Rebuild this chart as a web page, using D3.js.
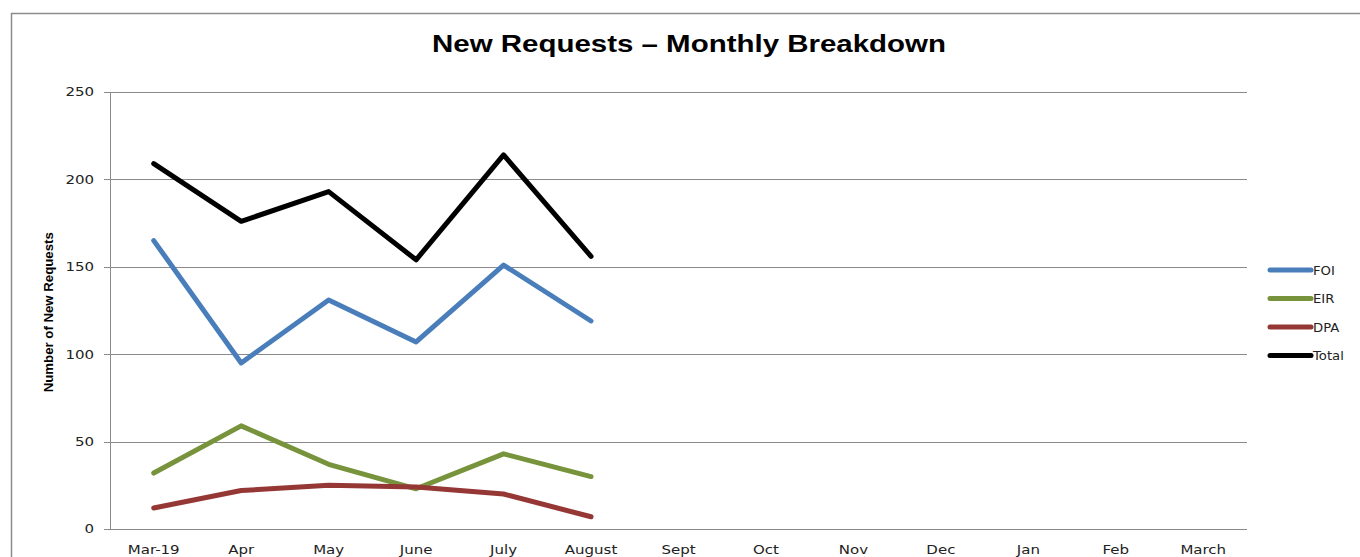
<!DOCTYPE html>
<html>
<head>
<meta charset="utf-8">
<script src="https://cdnjs.cloudflare.com/ajax/libs/d3/7.8.5/d3.min.js"></script>
<style>
	body { margin: 0; background: #fff; }
</style>
</head>
<body>
<div id="chart"></div>
<script>
// chart values
var months = ["Mar-19", "Apr", "May", "June", "July", "August", "Sept", "Oct", "Nov", "Dec", "Jan", "Feb", "March"];
var foi = [165, 95, 131, 107, 151, 119];
var eir = [32, 59, 37, 23, 43, 30];
var dpa = [12, 22, 25, 24, 20, 7];
var total = [209, 176, 193, 154, 214, 156];
var yTicks = [0, 50, 100, 150, 200, 250];

var seriesNames = ["FOI", "EIR", "DPA", "Total"];
var seriesColors = ["#4a7ebb", "#77933c", "#953735", "#000000"];

var width = 1360,
	height = 557;
var margin = {top: 92, left: 110, right: 113, bottom: 28};
// the reference text looks stretched sideways
var stretch = 1.25;

var svg = d3.select("#chart")
	.append("svg")
	.attr("width", width)
	.attr("height", height);

// chart border
svg.append("rect")
	.attr("x", 11.5)
	.attr("y", 13.5)
	.attr("width", 1360)
	.attr("height", 600)
	.attr("fill", "none")
	.attr("stroke", "#8c8c8c")
	.attr("stroke-width", 1.5);

svg.append("text")
	.attr("x", 432)
	.attr("y", 52)
	.attr("textLength", 514)
	.attr("lengthAdjust", "spacingAndGlyphs")
	.style("font-family", "'Liberation Sans', Arial, sans-serif")
	.style("font-weight", "bold")
	.style("font-size", "24px")
	.text("New Requests \u2013 Monthly Breakdown");

var x = d3.scaleBand()
	.domain(months)
	.range([margin.left, width - margin.right]);

var y = d3.scaleLinear()
	.domain([0, 250])
	.range([height - margin.bottom, margin.top]);

// gridlines
svg.append("g")
	.selectAll("line")
	.data(yTicks)
	.enter()
	.append("line")
	.attr("x1", margin.left - 6)
	.attr("x2", width - margin.right)
	.attr("y1", function (d) { return Math.round(y(d)) + 0.5; })
	.attr("y2", function (d) { return Math.round(y(d)) + 0.5; })
	.attr("stroke", "#8a8a8a")
	.attr("stroke-width", 1);

// y axis line
svg.append("line")
	.attr("x1", margin.left + 0.5)
	.attr("x2", margin.left + 0.5)
	.attr("y1", y(250))
	.attr("y2", y(0))
	.attr("stroke", "#8a8a8a");

var yAxis = svg.append("g")
	.attr("transform", "translate(" + (margin.left - 6) + ",0)")
	.call(d3.axisLeft(y).tickValues(yTicks).tickSize(0).tickPadding(10));
yAxis.select(".domain").remove();
yAxis.selectAll("text")
	.attr("x", -10 / stretch)
	.attr("transform", "scale(" + stretch + ",1)")
	.style("font-family", "'DejaVu Sans', Verdana, sans-serif")
	.style("font-size", "12px")
	.attr("fill", "#222");

var xAxis = svg.append("g")
	.attr("transform", "translate(0," + y(0) + ")")
	.call(d3.axisBottom(x).tickSize(0).tickPadding(16));
xAxis.select(".domain").remove();
xAxis.selectAll("text")
	.attr("transform", "scale(" + stretch + ",1)")
	.style("font-family", "'DejaVu Sans', Verdana, sans-serif")
	.style("font-size", "12px")
	.attr("fill", "#222");

svg.append("text")
	.attr("transform", "translate(53," + y(124) + ") rotate(-90)")
	.attr("text-anchor", "middle")
	.attr("textLength", 160)
	.attr("lengthAdjust", "spacingAndGlyphs")
	.style("font-family", "'Liberation Sans', Arial, sans-serif")
	.style("font-weight", "bold")
	.style("font-size", "13px")
	.text("Number of New Requests");

var line = d3.line()
	.x(function (d, i) { return x(months[i]) + x.bandwidth() / 2; })
	.y(function (d) { return y(d); });

var allSeries = [foi, eir, dpa, total];

svg.selectAll("path.series")
	.data(allSeries)
	.enter()
	.append("path")
	.attr("class", "series")
	.attr("d", line)
	.attr("fill", "none")
	.attr("stroke", function (d, i) { return seriesColors[i]; })
	.attr("stroke-width", 5)
	.attr("stroke-linecap", "round")
	.attr("stroke-linejoin", "round");

// legend
var legend = svg.append("g")
	.selectAll("g")
	.data(seriesNames)
	.enter()
	.append("g")
	.attr("transform", function (d, i) { return "translate(1270," + (270 + i * 28.5) + ")"; });

legend.append("line")
	.attr("x1", 0)
	.attr("x2", 41)
	.attr("stroke", function (d, i) { return seriesColors[i]; })
	.attr("stroke-width", 5)
	.attr("stroke-linecap", "round");

legend.append("text")
	.attr("x", 43 / 1.1)
	.attr("y", 4.5)
	.attr("transform", "scale(1.1,1)")
	.style("font-family", "'DejaVu Sans', Verdana, sans-serif")
	.style("font-size", "12px")
	.attr("fill", "#222")
	.text(function (d) { return d; });
</script>
</body>
</html>
